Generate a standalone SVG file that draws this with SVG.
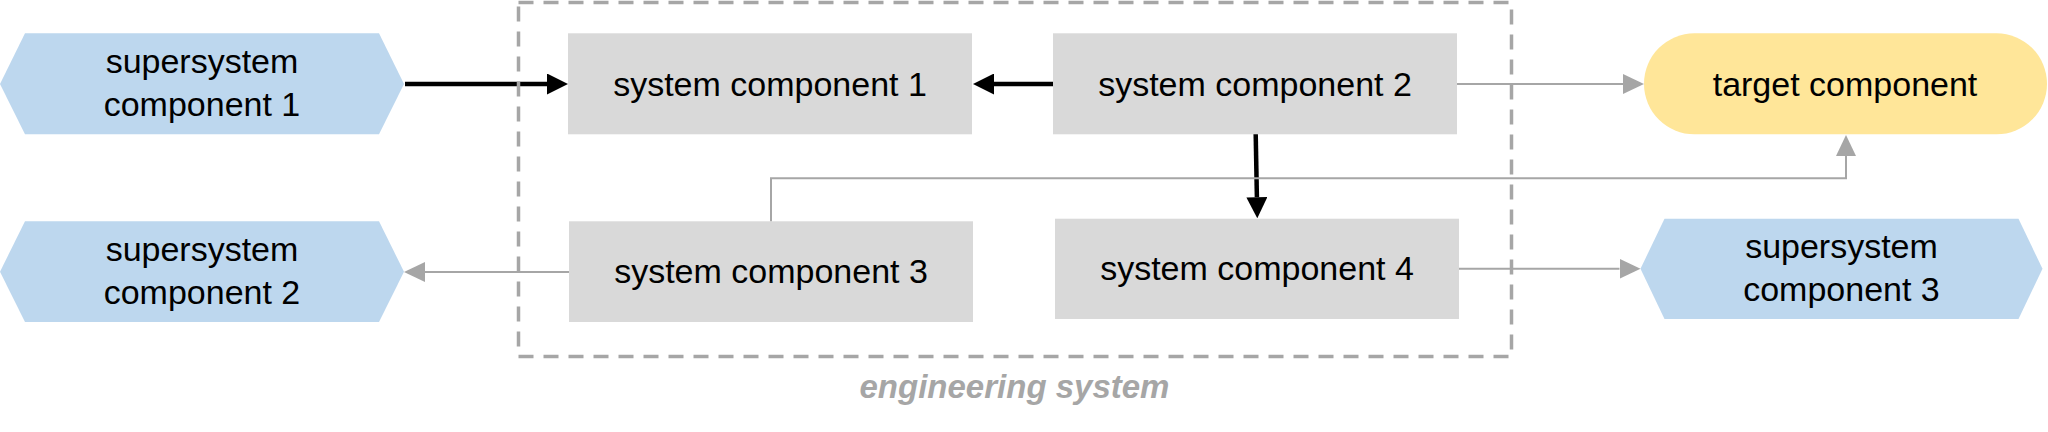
<svg xmlns="http://www.w3.org/2000/svg" width="2048" height="432" viewBox="0 0 2048 432">
<defs>
<style>
.lbl{font-family:"Liberation Sans",Arial,sans-serif;font-size:34px;fill:#000;text-anchor:middle}
.hex{fill:#BDD7EE}
.sys{fill:#D9D9D9}
.tgt{fill:#FFE699}
.strong{fill:none;stroke:#000;stroke-width:4.5}
.weak{fill:none;stroke:#A6A6A6;stroke-width:2}
.bound{fill:none;stroke:#A6A6A6;stroke-width:3.5;stroke-dasharray:15 10}
.bndlbl{font-family:"Liberation Sans",Arial,sans-serif;font-size:33px;font-weight:bold;font-style:italic;fill:#A6A6A6;text-anchor:middle}
</style>
<marker id="ahB" markerUnits="userSpaceOnUse" markerWidth="21" markerHeight="21" refX="0" refY="10.5" orient="auto" viewBox="0 0 21 21">
<path d="M0,0 L21,10.5 L0,21 z" fill="#000"/>
</marker>
<marker id="ahG" markerUnits="userSpaceOnUse" markerWidth="21" markerHeight="20" refX="0" refY="10" orient="auto" viewBox="0 0 21 20">
<path d="M0,0 L21,10 L0,20 z" fill="#A6A6A6"/>
</marker>
</defs>
<rect width="2048" height="432" fill="#fff"/>

<g id="ss1">
<polygon class="hex" points="0,84 25,33.3 379,33.3 404,84 379,134.3 25,134.3"/>
<text class="lbl" x="202" y="73">supersystem</text>
<text class="lbl" x="202" y="116">component 1</text>
</g>
<g id="ss2">
<polygon class="hex" points="0,271.7 25,221.3 379,221.3 404,271.7 379,322 25,322"/>
<text class="lbl" x="202" y="261">supersystem</text>
<text class="lbl" x="202" y="304">component 2</text>
</g>
<g id="sc1">
<rect class="sys" x="568" y="33.3" width="404" height="101"/>
<text class="lbl" x="770" y="96">system component 1</text>
</g>
<g id="sc2">
<rect class="sys" x="1053" y="33.3" width="404" height="101"/>
<text class="lbl" x="1255" y="96">system component 2</text>
</g>
<g id="sc3">
<rect class="sys" x="569" y="221.3" width="404" height="100.7"/>
<text class="lbl" x="771" y="283">system component 3</text>
</g>
<g id="sc4">
<rect class="sys" x="1055" y="218.7" width="404" height="100.3"/>
<text class="lbl" x="1257" y="280">system component 4</text>
</g>
<g id="target">
<rect class="tgt" x="1644" y="33.3" width="403" height="101" rx="50.5" ry="50.5"/>
<text class="lbl" x="1845" y="96">target component</text>
</g>
<g id="ss3">
<polygon class="hex" points="1640.5,268.8 1664.5,218.7 2018.5,218.7 2042.5,268.8 2018.5,319 1664.5,319"/>
<text class="lbl" x="1841.5" y="258">supersystem</text>
<text class="lbl" x="1841.5" y="301">component 3</text>
</g>

<g id="connectors">
<path class="strong" d="M405,84 H547" marker-end="url(#ahB)"/>
<path class="strong" d="M1053,84 H994" marker-end="url(#ahB)"/>
<path class="strong" d="M1255.7,134.3 L1256.9,197.3" marker-end="url(#ahB)"/>
<path class="weak" d="M1457,84 H1623" marker-end="url(#ahG)"/>
<path class="weak" d="M771,221.3 V178.3 H1846 V156" marker-end="url(#ahG)"/>
<path class="weak" d="M569,272 H425" marker-end="url(#ahG)"/>
<path class="weak" d="M1459,268.8 H1619.5" marker-end="url(#ahG)"/>
</g>

<g id="engineering-system">
<rect class="bound" x="518.5" y="2.5" width="993" height="354"/>
<text class="bndlbl" x="1014.5" y="398">engineering system</text>
</g>
</svg>
